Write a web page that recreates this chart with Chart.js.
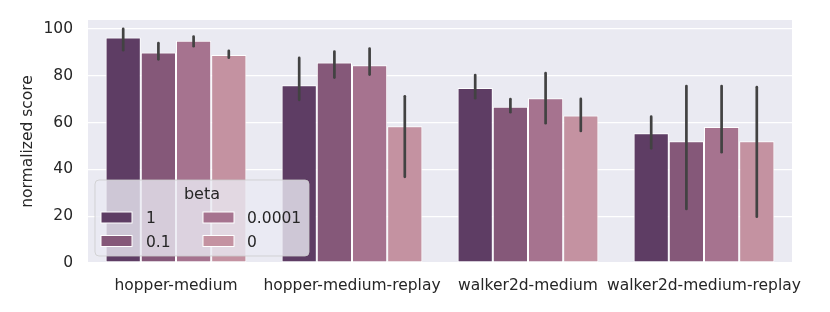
<!DOCTYPE html>
<html>
<head>
<meta charset="utf-8">
<script src="https://cdn.jsdelivr.net/npm/chart.js@4/dist/chart.umd.min.js"></script>
<style>
html,body{margin:0;padding:0;background:#fff;}
#wrap{width:830px;height:312px;position:relative;}
</style>
</head>
<body>
<div id="wrap"><canvas id="c" width="830" height="312"></canvas></div>
<script>
const categories = ["hopper-medium", "hopper-medium-replay", "walker2d-medium", "walker2d-medium-replay"];
const betaLabels = ["1", "0.1", "0.0001", "0"];
const colors = ["#5e3d64", "#855879", "#a6738f", "#c492a1"];

const mean_beta1    = [96.3, 75.9, 74.7, 55.4];
const mean_beta01   = [89.9, 85.6, 66.7, 52.0];
const mean_beta1e4  = [94.9, 84.5, 70.4, 58.1];
const mean_beta0    = [88.9, 58.4, 63.0, 52.0];

const low_beta1     = [90.9, 69.7, 70.4, 49.0];
const high_beta1    = [100.0, 87.6, 80.3, 62.5];
const low_beta01    = [87.0, 79.2, 64.4, 23.1];
const high_beta01   = [93.9, 90.3, 70.0, 75.6];
const low_beta1e4   = [92.6, 80.5, 59.7, 47.3];
const high_beta1e4  = [96.7, 91.6, 81.1, 75.6];
const low_beta0     = [87.7, 36.8, 56.4, 19.8];
const high_beta0    = [90.6, 71.2, 70.1, 75.1];

const yTicks = [0, 20, 40, 60, 80, 100];

const means = [mean_beta1, mean_beta01, mean_beta1e4, mean_beta0];
const lows = [low_beta1, low_beta01, low_beta1e4, low_beta0];
const highs = [high_beta1, high_beta01, high_beta1e4, high_beta0];

const FONT = "'DejaVu Sans', sans-serif";
const FS = 15.5;

const bgPlugin = {
  id: 'bg',
  beforeDraw(chart) {
    const {ctx, chartArea: a} = chart;
    ctx.save();
    ctx.fillStyle = '#eaeaf2';
    ctx.fillRect(a.left, a.top, a.right - a.left, a.bottom - a.top);
    ctx.restore();
  }
};

const errPlugin = {
  id: 'err',
  afterDatasetsDraw(chart) {
    const {ctx} = chart;
    const ys = chart.scales.y;
    ctx.save();
    ctx.strokeStyle = '#424242';
    ctx.lineWidth = 2.7;
    ctx.lineCap = 'round';
    chart.data.datasets.forEach((ds, i) => {
      const meta = chart.getDatasetMeta(i);
      meta.data.forEach((el, j) => {
        const lo = ds.errLow[j], hi = ds.errHigh[j];
        ctx.beginPath();
        ctx.moveTo(el.x, ys.getPixelForValue(lo));
        ctx.lineTo(el.x, ys.getPixelForValue(hi));
        ctx.stroke();
      });
    });
    ctx.restore();
  }
};

function roundRect(ctx, x, y, w, h, r) {
  ctx.beginPath();
  ctx.moveTo(x + r, y);
  ctx.lineTo(x + w - r, y);
  ctx.quadraticCurveTo(x + w, y, x + w, y + r);
  ctx.lineTo(x + w, y + h - r);
  ctx.quadraticCurveTo(x + w, y + h, x + w - r, y + h);
  ctx.lineTo(x + r, y + h);
  ctx.quadraticCurveTo(x, y + h, x, y + h - r);
  ctx.lineTo(x, y + r);
  ctx.quadraticCurveTo(x, y, x + r, y);
  ctx.closePath();
}

const legendPlugin = {
  id: 'betaLegend',
  afterDraw(chart) {
    const {ctx} = chart;
    const x = 95, y = 180, w = 214, h = 76;
    ctx.save();
    roundRect(ctx, x, y, w, h, 4);
    ctx.fillStyle = 'rgba(234,234,242,0.8)';
    ctx.fill();
    ctx.strokeStyle = 'rgba(204,204,204,0.8)';
    ctx.lineWidth = 1;
    ctx.stroke();
    ctx.fillStyle = '#262626';
    ctx.font = "16px " + FONT;
    ctx.textAlign = 'center';
    ctx.textBaseline = 'middle';
    ctx.fillText('beta', 202, 195);
    ctx.font = FS + "px " + FONT;
    ctx.textAlign = 'left';
    const cols = [{px: 101, tx: 146}, {px: 203, tx: 247}];
    const rows = [217.5, 241];
    chart.data.datasets.forEach((ds, i) => {
      const c = cols[Math.floor(i / 2)];
      const ry = rows[i % 2];
      ctx.fillStyle = ds.backgroundColor;
      ctx.fillRect(c.px, ry - 5.5, 31, 11);
      ctx.strokeStyle = '#ffffff';
      ctx.lineWidth = 1;
      ctx.strokeRect(c.px, ry - 5.5, 31, 11);
      ctx.fillStyle = '#262626';
      ctx.fillText(ds.label, c.tx, ry + 1.5);
    });
    ctx.restore();
  }
};

const datasets = betaLabels.map((lab, i) => ({
  label: lab,
  data: means[i],
  errLow: lows[i],
  errHigh: highs[i],
  backgroundColor: colors[i],
  borderColor: '#ffffff',
  borderWidth: 1,
  borderSkipped: false,
  categoryPercentage: 0.8,
  barPercentage: 1.0
}));

new Chart(document.getElementById('c'), {
  type: 'bar',
  data: { labels: categories, datasets },
  options: {
    responsive: false,
    animation: false,
    devicePixelRatio: 1,
    layout: { padding: { left: 0, top: 20, right: 38, bottom: 0 } },
    plugins: { legend: { display: false }, tooltip: { enabled: false } },
    scales: {
      x: {
        grid: { display: false, drawTicks: false },
        border: { display: false },
        ticks: { color: '#262626', font: { family: FONT, size: FS }, padding: 14, maxRotation: 0, autoSkip: false },
        afterFit(s) { s.height = 49; s.paddingLeft = 0; s.paddingRight = 0; }
      },
      y: {
        min: 0,
        max: 103.8,
        afterBuildTicks(s) { s.ticks = yTicks.map(v => ({ value: v })); },
        grid: { color: '#ffffff', lineWidth: 1.3, drawTicks: false },
        border: { display: false },
        ticks: { color: '#262626', font: { family: FONT, size: FS }, padding: 15 },
        title: { display: true, text: 'normalized score', color: '#262626', font: { family: FONT, size: FS }, padding: { top: 19, bottom: 0 } },
        afterFit(s) { s.width = 88; s.paddingTop = 0; s.paddingBottom = 0; }
      }
    }
  },
  plugins: [bgPlugin, errPlugin, legendPlugin]
});
</script>
</body>
</html>
